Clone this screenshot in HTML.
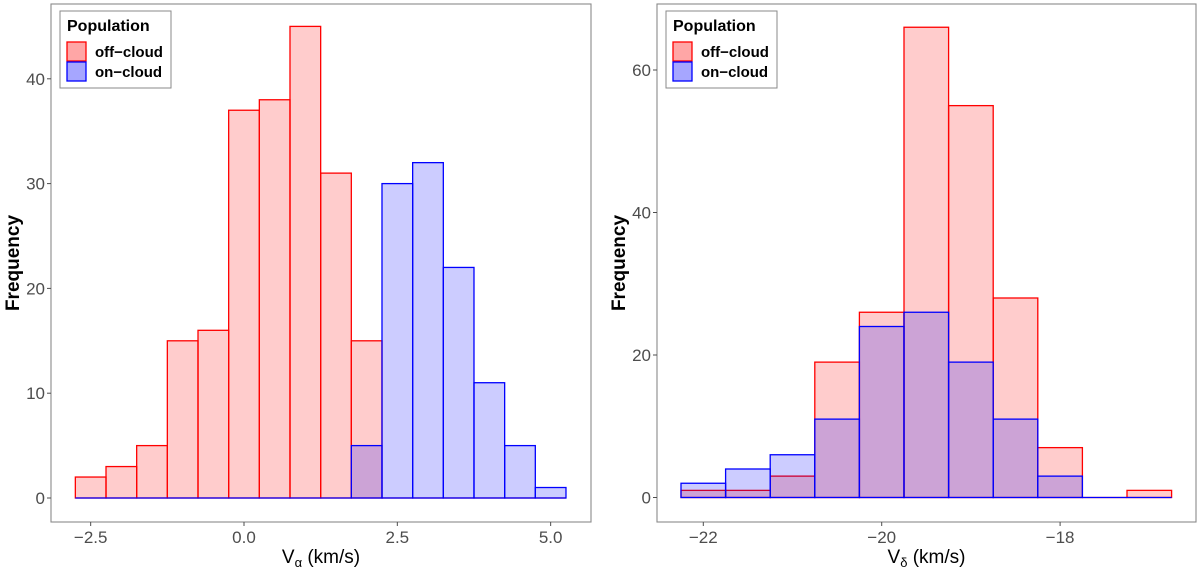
<!DOCTYPE html>
<html><head><meta charset="utf-8"><style>
html,body{margin:0;padding:0;background:#fff;}
svg{display:block;font-family:"Liberation Sans","DejaVu Sans",sans-serif;}
.tick{fill:#4d4d4d;font-size:17px;}
.ttl{fill:#000;font-size:19px;}
</style></head><body>
<svg id="chart" width="1200" height="570" viewBox="0 0 1200 570"></svg>
<script>
// ---- data: left panel (V_alpha) ----
const leftBinCenters = [-2.5,-2.0,-1.5,-1.0,-0.5,0.0,0.5,1.0,1.5,2.0,2.5,3.0,3.5,4.0,4.5,5.0];
const leftOff = [2,3,5,15,16,37,38,45,31,15,0,0,0,0,0,0];
const leftOn  = [0,0,0,0,0,0,0,0,0,5,30,32,22,11,5,1];
const leftXTicks = [-2.5,0.0,2.5,5.0];
const leftXTickLabels = ["-2.5","0.0","2.5","5.0"];
const leftYTicks = [0,10,20,30,40];
// ---- data: right panel (V_delta) ----
const rightBinCenters = [-22.0,-21.5,-21.0,-20.5,-20.0,-19.5,-19.0,-18.5,-18.0,-17.5,-17.0];
const rightOff = [1,1,3,19,26,66,55,28,7,0,1];
const rightOn  = [2,4,6,11,24,26,19,11,3,0,0];
const rightXTicks = [-22,-20,-18];
const rightXTickLabels = ["-22","-20","-18"];
const rightYTicks = [0,20,40,60];

const NS="http://www.w3.org/2000/svg";
const svg=document.getElementById('chart');
function mk(tag,attrs,parent){const e=document.createElementNS(NS,tag);for(const k in attrs)e.setAttribute(k,attrs[k]);(parent||svg).appendChild(e);return e;}

function panel(cfg){
  const g=mk('g',{});
  
  
  const x=v=>cfg.x0px+(v-cfg.x0v)*cfg.xs;
  const y=v=>cfg.y0px-v*cfg.ys;
  const fr=mk('rect',{x:cfg.fl,y:4,width:cfg.fr-cfg.fl,height:518,fill:'none',stroke:'#8a8a8a','stroke-width':1.1},g);
  
  
  const bw=cfg.bw;
  function bars(centers,vals,fill,stroke,nm){
    centers.forEach((c,i)=>{
      const x1=x(c-bw/2),x2=x(c+bw/2),yt=y(vals[i]),yb=y(0);
      if(vals[i]>0){
        const r=mk('rect',{x:x1,y:yt,width:x2-x1,height:yb-yt,fill:fill,stroke:stroke,'stroke-width':1.3},g);
        
        
      } else {
        const l=mk('line',{x1:x1,x2:x2,y1:yb,y2:yb,stroke:stroke,'stroke-width':1.3},g);
        
        
      }
    });
  }
  bars(cfg.centers,cfg.off,'rgba(255,0,0,0.2)','#ff0000','off-cloud');
  bars(cfg.centers,cfg.on,'rgba(0,0,255,0.2)','#0000ff','on-cloud');
  cfg.yt.forEach(v=>{
    mk('line',{x1:cfg.fl-4,x2:cfg.fl,y1:y(v),y2:y(v),stroke:'#4d4d4d','stroke-width':1},g);
    const t=mk('text',{x:cfg.fl-6,y:y(v)+6,'text-anchor':'end',class:'tick'},g);
    t.textContent=String(v);
    
    
  });
  cfg.xt.forEach((v,i)=>{
    mk('line',{x1:x(v),x2:x(v),y1:522,y2:526,stroke:'#4d4d4d','stroke-width':1},g);
    const t=mk('text',{x:x(v),y:543,'text-anchor':'middle',class:'tick'},g);
    t.textContent=cfg.xtl[i].replace('-','\u2212');
    
    
  });
  const xt=mk('text',{x:(cfg.fl+cfg.fr)/2,y:563,'text-anchor':'middle',class:'ttl'},g);
  xt.innerHTML='V<tspan font-size="13" dy="4">'+cfg.sub+'</tspan><tspan dy="-4"> (km/s)</tspan>';
  
  
  const yt=mk('text',{x:cfg.fl-32,y:263,'text-anchor':'middle',transform:'rotate(-90 '+(cfg.fl-32)+' 263)','font-weight':'bold','font-size':'19'},g);
  yt.textContent='Frequency';
  
  
  const lg=mk('g',{},g);
  
  
  const lx=cfg.fl+9;
  mk('rect',{x:lx,y:11,width:111,height:77,fill:'#fff',stroke:'#8a8a8a','stroke-width':1},lg);
  const lt=mk('text',{x:lx+7,y:31,'font-weight':'bold','font-size':'16',fill:'#000'},lg);
  lt.textContent='Population';
  [['off-cloud','rgba(255,0,0,0.35)','#ff0000',42],['on-cloud','rgba(0,0,255,0.35)','#0000ff',62]].forEach(e=>{
    const k=mk('rect',{x:lx+7,y:e[3],width:19,height:19,fill:e[1],stroke:e[2],'stroke-width':1.3},lg);
    
    
    const t=mk('text',{x:lx+35,y:e[3]+15,'font-weight':'bold','font-size':'15',fill:'#000'},lg);
    t.textContent=e[0].replace('-','\u2212');
    
    
  });
}
panel({name:'left-panel',centers:leftBinCenters,off:leftOff,on:leftOn,xt:leftXTicks,xtl:leftXTickLabels,yt:leftYTicks,
  x0px:244,x0v:0,xs:61.33,y0px:498,ys:10.48,bw:0.5,fl:51,fr:591,sub:'\u03B1'});
panel({name:'right-panel',centers:rightBinCenters,off:rightOff,on:rightOn,xt:rightXTicks,xtl:rightXTickLabels,yt:rightYTicks,
  x0px:881.7,x0v:-20,xs:89.2,y0px:497.5,ys:7.125,bw:0.5,fl:657,fr:1196,sub:'\u03B4'});
</script>
</body></html>
